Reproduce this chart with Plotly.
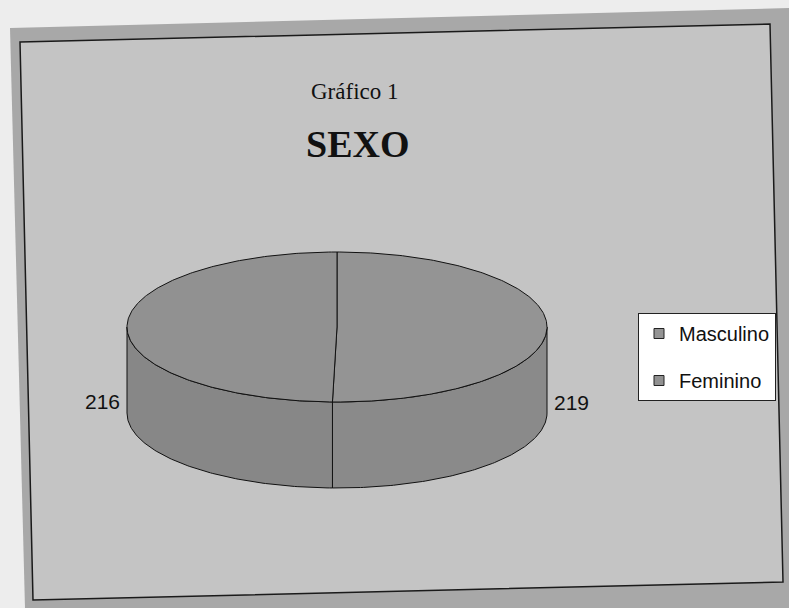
import numpy as np
import plotly.graph_objects as go

# Data
categories = ["Masculino", "Feminino"]
values = [219, 216]
top_colors = ["#949494", "#919191"]
side_colors = ["#8a8a8a", "#878787"]

W, H = 789, 608

# Pie geometry (pixel-like coordinate system, y grows downward)
cx, cy = 337.0, 327.0   # centre of the top face
a, b = 210.0, 75.0      # ellipse semi-axes
depth = 86.0            # thickness of the disc


def rim(theta_deg, dy=0.0):
    t = np.radians(theta_deg)
    return cx + a * np.sin(t), cy - b * np.cos(t) + dy


fig = go.Figure()

total = float(sum(values))
bounds = []
start = 0.0
for v in values:
    end = start + 360.0 * v / total
    bounds.append((start, end))
    start = end

# Side walls (only the front half of the disc is visible: 90..270 degrees)
for (s, e), col in zip(bounds, side_colors):
    lo, hi = max(s, 90.0), min(e, 270.0)
    if hi <= lo:
        continue
    th = np.linspace(lo, hi, 120)
    xt, yt = rim(th)
    xb, yb = rim(th[::-1], depth)
    fig.add_trace(go.Scatter(
        x=np.concatenate([xt, xb, xt[:1]]),
        y=np.concatenate([yt, yb, yt[:1]]),
        mode="lines", fill="toself", fillcolor=col,
        line=dict(color="#111111", width=1),
        hoverinfo="skip", showlegend=False))

# Top faces
for (s, e), col in zip(bounds, top_colors):
    th = np.linspace(s, e, 240)
    xs, ys = rim(th)
    fig.add_trace(go.Scatter(
        x=np.concatenate([[cx], xs, [cx]]),
        y=np.concatenate([[cy], ys, [cy]]),
        mode="lines", fill="toself", fillcolor=col,
        line=dict(color="#111111", width=1),
        hoverinfo="skip", showlegend=False))

# Legend entries
for name, col in zip(categories, top_colors):
    fig.add_trace(go.Scatter(
        x=[None], y=[None], mode="markers", name=name, legendgroup=name,
        marker=dict(symbol="square", size=10, color=col,
                    line=dict(color="#222222", width=1))))

# Value labels placed outside each slice at its mid-angle
annotations = []
for (s, e), v in zip(bounds, values):
    mid = (s + e) / 2.0
    t = np.radians(mid)
    lx = cx + (a + 25) * np.sin(t)
    ly = cy - b * np.cos(t) + 75
    annotations.append(dict(
        x=lx, y=ly, xref="x", yref="y", text=str(v), showarrow=False,
        font=dict(family="Liberation Sans, Arial", size=21, color="#111111")))

annotations.append(dict(
    x=355, y=91, xref="x", yref="y", text="Gráfico 1", showarrow=False,
    font=dict(family="Liberation Serif, Times New Roman", size=23, color="#111111")))
annotations.append(dict(
    x=357, y=144, xref="x", yref="y", text="<b>SEXO</b>", showarrow=False,
    font=dict(family="Liberation Serif, Times New Roman", size=38, color="#111111")))

shapes = [
    # shadowed band around the chart area
    dict(type="path", xref="x", yref="y", layer="below",
         path="M 10 28 L 789 8 L 789 608 L 25 608 Z",
         fillcolor="#a8a8a8", line=dict(width=0)),
    # chart area with its border
    dict(type="path", xref="x", yref="y", layer="below",
         path="M 20 42 L 770 24 L 783 582 L 33 600 Z",
         fillcolor="#c4c4c4", line=dict(color="#1a1a1a", width=1.5)),
]

fig.update_layout(
    width=W, height=H,
    margin=dict(l=0, r=0, t=0, b=0),
    paper_bgcolor="#ededed",
    plot_bgcolor="rgba(0,0,0,0)",
    xaxis=dict(range=[0, W], visible=False, fixedrange=True),
    yaxis=dict(range=[H, 0], visible=False, fixedrange=True),
    showlegend=True,
    legend=dict(
        x=638 / W, y=1 - 313 / H, xanchor="left", yanchor="top",
        bgcolor="#ffffff", bordercolor="#222222", borderwidth=1,
        font=dict(family="Liberation Sans, Arial", size=20, color="#111111"),
        itemwidth=30, tracegroupgap=18, traceorder="grouped"),
    annotations=annotations,
    shapes=shapes,
)

fig.write_html("out.html")
